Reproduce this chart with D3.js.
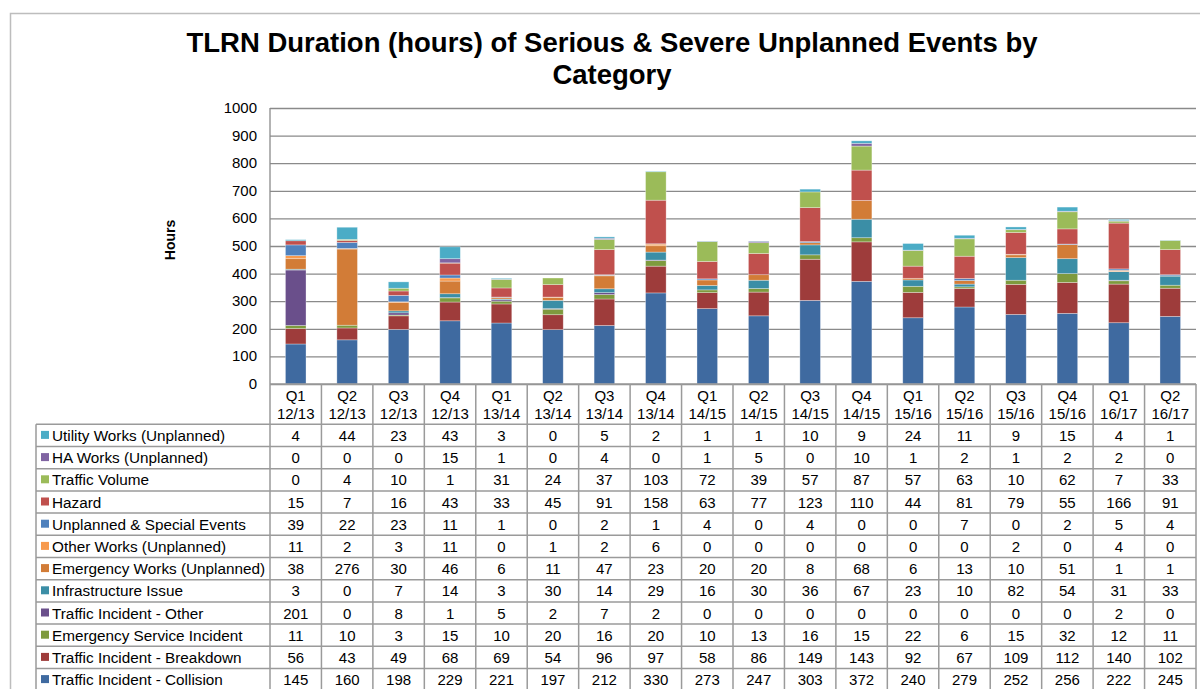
<!DOCTYPE html>
<html>
<head>
<meta charset="utf-8">
<script src="https://cdn.jsdelivr.net/npm/d3@7"></script>
<style>
  body { margin: 0; background: #fff; }
  svg { display: block; font-family: "Liberation Sans", Arial, sans-serif; }
</style>
</head>
<body>
<svg id="svg" width="1200" height="689"></svg>
<script>
const quarters = ['Q1 12/13', 'Q2 12/13', 'Q3 12/13', 'Q4 12/13', 'Q1 13/14', 'Q2 13/14', 'Q3 13/14', 'Q4 13/14',
  'Q1 14/15', 'Q2 14/15', 'Q3 14/15', 'Q4 14/15', 'Q1 15/16', 'Q2 15/16', 'Q3 15/16', 'Q4 15/16', 'Q1 16/17', 'Q2 16/17'];

// bottom of stack first
const categories = [
  'Traffic Incident - Collision',
  'Traffic Incident - Breakdown',
  'Emergency Service Incident',
  'Traffic Incident - Other',
  'Infrastructure Issue',
  'Emergency Works (Unplanned)',
  'Other Works (Unplanned)',
  'Unplanned & Special Events',
  'Hazard',
  'Traffic Volume',
  'HA Works (Unplanned)',
  'Utility Works (Unplanned)'
];

const collision = [145, 160, 198, 229, 221, 197, 212, 330, 273, 247, 303, 372, 240, 279, 252, 256, 222, 245];
const breakdown = [56, 43, 49, 68, 69, 54, 96, 97, 58, 86, 149, 143, 92, 67, 109, 112, 140, 102];
const emergencyService = [11, 10, 3, 15, 10, 20, 16, 20, 10, 13, 16, 15, 22, 6, 15, 32, 12, 11];
const incidentOther = [201, 0, 8, 1, 5, 2, 7, 2, 0, 0, 0, 0, 0, 0, 0, 0, 2, 0];
const infrastructure = [3, 0, 7, 14, 3, 30, 14, 29, 16, 30, 36, 67, 23, 10, 82, 54, 31, 33];
const emergencyWorks = [38, 276, 30, 46, 6, 11, 47, 23, 20, 20, 8, 68, 6, 13, 10, 51, 1, 1];
const otherWorks = [11, 2, 3, 11, 0, 1, 2, 6, 0, 0, 0, 0, 0, 0, 2, 0, 4, 0];
const specialEvents = [39, 22, 23, 11, 1, 0, 2, 1, 4, 0, 4, 0, 0, 7, 0, 2, 5, 4];
const hazard = [15, 7, 16, 43, 33, 45, 91, 158, 63, 77, 123, 110, 44, 81, 79, 55, 166, 91];
const trafficVolume = [0, 4, 10, 1, 31, 24, 37, 103, 72, 39, 57, 87, 57, 63, 10, 62, 7, 33];
const haWorks = [0, 0, 0, 15, 1, 0, 4, 0, 1, 5, 0, 10, 1, 2, 1, 2, 2, 0];
const utilityWorks = [4, 44, 23, 43, 3, 0, 5, 2, 1, 1, 10, 9, 24, 11, 9, 15, 4, 1];

const seriesValues = [collision, breakdown, emergencyService, incidentOther, infrastructure, emergencyWorks,
  otherWorks, specialEvents, hazard, trafficVolume, haWorks, utilityWorks];

const colors = ['#3f6aa0', '#9e3c3b', '#7e9a3e', '#6a4f8b', '#3b8ea6', '#d27c37',
  '#f79a4e', '#4f81bd', '#c0504d', '#9bbb59', '#8064a2', '#4bacc6'];

const yTicks = [0, 100, 200, 300, 400, 500, 600, 700, 800, 900, 1000];

const svg = d3.select('#svg');
const plot = { left: 270, right: 1196, top: 108, bottom: 384 };

// outer chart frame
svg.append('path')
  .attr('d', 'M10.5,700 V13.5 H1210')
  .attr('fill', 'none')
  .attr('stroke', '#bdbdbd')
  .attr('stroke-width', 1.5);

svg.append('text')
  .attr('x', 612)
  .attr('y', 52)
  .attr('text-anchor', 'middle')
  .style('font-size', '27.5px')
  .style('font-weight', 'bold')
  .text('TLRN Duration (hours) of Serious & Severe Unplanned Events by');
svg.append('text')
  .attr('x', 612)
  .attr('y', 84)
  .attr('text-anchor', 'middle')
  .style('font-size', '27.5px')
  .style('font-weight', 'bold')
  .text('Category');

const rows = quarters.map((q, i) => {
  const r = { quarter: q };
  categories.forEach((c, k) => { r[c] = seriesValues[k][i]; });
  return r;
});

const x = d3.scaleBand().domain(quarters).range([plot.left, plot.right]).padding(0);
const y = d3.scaleLinear().domain([0, 1000]).range([plot.bottom, plot.top]);
const color = d3.scaleOrdinal().domain(categories).range(colors);

// grid
const grid = svg.append('g')
  .attr('transform', 'translate(' + plot.left + ',0)')
  .call(d3.axisLeft(y).tickValues(yTicks).tickSize(-(plot.right - plot.left)).tickFormat(''));
grid.select('.domain').remove();
grid.selectAll('line').attr('stroke', '#8a8a8a').attr('stroke-width', 1.3);

// y labels
svg.append('g').selectAll('text')
  .data(yTicks)
  .enter()
  .append('text')
  .attr('x', 257)
  .attr('y', d => y(d) + 5)
  .attr('text-anchor', 'end')
  .style('font-size', '15px')
  .text(d => d);

svg.append('text')
  .attr('transform', 'translate(175,240) rotate(-90)')
  .attr('text-anchor', 'middle')
  .style('font-size', '14px')
  .style('font-weight', 'bold')
  .text('Hours');

// bars
const stacked = d3.stack().keys(categories)(rows);
const barW = x.bandwidth() * 0.4;
svg.append('g').selectAll('g')
  .data(stacked)
  .enter()
  .append('g')
  .attr('fill', d => color(d.key))
  .selectAll('rect')
  .data(d => d)
  .enter()
  .append('rect')
  .attr('x', d => x(d.data.quarter) + (x.bandwidth() - barW) / 2)
  .attr('y', d => y(d[1]))
  .attr('width', barW)
  .attr('height', d => y(d[0]) - y(d[1]))
  .attr('stroke', 'rgba(255,255,255,0.45)')
  .attr('stroke-width', 0.7);

// axis line
svg.append('line')
  .attr('x1', plot.left).attr('x2', plot.left)
  .attr('y1', plot.top).attr('y2', plot.bottom)
  .attr('stroke', '#8a8a8a').attr('stroke-width', 1.3);

// data table
const tableTop = 424.3;
const rowH = 22.2;
const labelLeft = 36;
const lineColor = '#9a9a9a';
const table = svg.append('g');
const tableRows = categories.slice().reverse();
const nRows = tableRows.length;

// header
quarters.forEach(q => {
  const parts = q.split(' ');
  const cx = x(q) + x.bandwidth() / 2;
  table.append('text').attr('x', cx).attr('y', plot.bottom + 17)
    .attr('text-anchor', 'middle').style('font-size', '15px').text(parts[0]);
  table.append('text').attr('x', cx).attr('y', plot.bottom + 35)
    .attr('text-anchor', 'middle').style('font-size', '15px').text(parts[1]);
});

// horizontal lines
table.append('line')
  .attr('x1', plot.left).attr('x2', plot.right)
  .attr('y1', plot.bottom).attr('y2', plot.bottom)
  .attr('stroke', lineColor).attr('stroke-width', 1.5);
d3.range(nRows + 1).forEach(k => {
  table.append('line')
    .attr('x1', labelLeft).attr('x2', plot.right)
    .attr('y1', tableTop + k * rowH).attr('y2', tableTop + k * rowH)
    .attr('stroke', lineColor).attr('stroke-width', 1.5);
});
// vertical lines
table.append('line')
  .attr('x1', labelLeft).attr('x2', labelLeft)
  .attr('y1', tableTop).attr('y2', tableTop + nRows * rowH)
  .attr('stroke', lineColor).attr('stroke-width', 1.5);
quarters.concat(['end']).forEach((q, i) => {
  const xx = i < quarters.length ? x(q) : plot.right;
  table.append('line')
    .attr('x1', xx).attr('x2', xx)
    .attr('y1', plot.bottom).attr('y2', tableTop + nRows * rowH)
    .attr('stroke', lineColor).attr('stroke-width', 1.5);
});

tableRows.forEach((cat, r) => {
  const cy = tableTop + r * rowH + rowH / 2;
  table.append('rect')
    .attr('x', 41).attr('y', cy - 4.5)
    .attr('width', 8).attr('height', 8)
    .attr('fill', color(cat));
  table.append('text')
    .attr('x', 52).attr('y', cy + 5.5)
    .style('font-size', '15.3px')
    .text(cat);
  const vals = seriesValues[categories.indexOf(cat)];
  quarters.forEach((q, i) => {
    table.append('text')
      .attr('x', x(q) + x.bandwidth() / 2)
      .attr('y', cy + 5.5)
      .attr('text-anchor', 'middle')
      .style('font-size', '15px')
      .text(vals[i]);
  });
});
</script>
</body>
</html>
